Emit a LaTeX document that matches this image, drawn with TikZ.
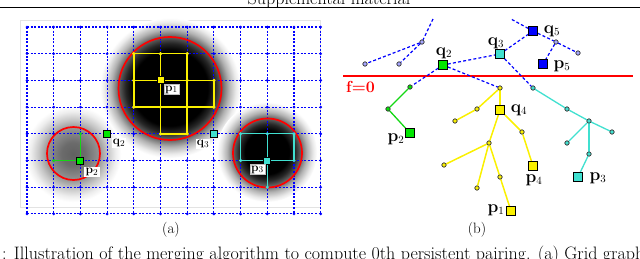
\documentclass[tikz,border=0pt]{standalone}
\usepackage{amsmath}
\pgfdeclareradialshading{blobone}{\pgfpoint{0bp}{0bp}}{color(0bp)=(black); color(13.5bp)=(black); color(16bp)=(black!85); color(18.4bp)=(black!62); color(21bp)=(black!30); color(23.5bp)=(black!8); color(25bp)=(white); color(50bp)=(white)}
\pgfdeclareradialshading{blobthree}{\pgfpoint{0bp}{0bp}}{color(0bp)=(black); color(11bp)=(black); color(14bp)=(black!85); color(17.25bp)=(black!58); color(20bp)=(black!30); color(23bp)=(black!9); color(25bp)=(white); color(50bp)=(white)}
\pgfdeclareradialshading{blobgray}{\pgfpoint{0bp}{0bp}}{color(0bp)=(black!62); color(6bp)=(black!58); color(13.5bp)=(black!42); color(18bp)=(black!22); color(22bp)=(black!7); color(25bp)=(white); color(50bp)=(white)}
\definecolor{ygreen}{RGB}{20,215,20}
\definecolor{sgreen}{RGB}{0,230,0}
\definecolor{ycyan}{RGB}{64,224,208}
\definecolor{yyel}{RGB}{250,240,0}
\definecolor{yblue}{RGB}{0,0,255}
\tikzset{
  bluegrid/.style={yblue, line width=1.1pt, dash pattern=on 2pt off 1.6pt},
  bluedash/.style={yblue, line width=1.2pt, dash pattern=on 3pt off 2.2pt},
  yline/.style={yyel, line width=1.5pt},
  gline/.style={ygreen, line width=1.3pt},
  cline/.style={ycyan, line width=1.3pt},
  redcirc/.style={red, line width=1.7pt},
  lsq/.style={draw=black, line width=1pt, minimum size=7pt, inner sep=0pt},
  rsq/.style={draw=black, line width=1.1pt, minimum size=8.5pt, inner sep=0pt},
  tdot/.style={circle, draw=black!75, line width=0.7pt, minimum size=4.2pt, inner sep=0pt},
  llab/.style={fill=white, inner sep=1.2pt, font=\fontsize{13}{14}\selectfont},
  rlab/.style={inner sep=0.5pt, font=\fontsize{16}{17}\selectfont},
}
\begin{document}
\begin{tikzpicture}[x=1pt,y=-1pt]
\useasboundingbox (0,0) rectangle (640,258);
\clip (0,0) rectangle (640,258);
% header and caption
\node[anchor=base, inner sep=0pt] (hdr) at (329,4) {\fontsize{18}{20}\selectfont Supplemental material};
\draw[line width=0.9pt] (0,7) -- (640,7);
\node[anchor=base west, inner sep=0pt] (cap) at (2,259.5) {\fontsize{18}{20}\selectfont : Illustration of the merging algorithm to compute 0th persistent pairing. (a) Grid graph};
% ---------- panel (a) ----------
\draw[gray!22, fill=white, line width=0.8pt] (20,20) rectangle (320,207);
\shade[shading=blobone] (170,88) circle[radius=70];
\shade[shading=blobgray] (73,154) circle[radius=48];
\shade[shading=blobthree] (267,152) circle[radius=50];
\foreach \i in {0,...,11}{\foreach \j in {0,...,7}{\coordinate (g\i-\j) at ({27+26.7*\i},{27+26.7*\j});}}
\foreach \j in {0,...,7}{\draw[bluegrid] (g0-\j) -- (g11-\j);}
\foreach \i in {0,...,11}{\draw[bluegrid] (g\i-0) -- (g\i-7);}
\foreach \i in {0,...,11}{\foreach \j in {0,...,7}{\fill[yblue] (g\i-\j) circle[radius=1.5];}}
\draw[redcirc] (170,88.5) circle[radius=51.5];
\draw[redcirc] (73.5,153.5) circle[radius=26.5];
\draw[redcirc] (267.5,153) circle[radius=34.5];
% yellow
\foreach \a/\b/\c/\d in {4/1/6/1, 4/2/7/2, 4/3/7/3, 5/4/6/4, 4/1/4/3, 5/1/5/4, 6/1/6/4, 7/2/7/3}{\draw[yline] (g\a-\b) -- (g\c-\d);}
\foreach \a/\b in {4/1,5/1,6/1,4/2,6/2,7/2,4/3,5/3,6/3,7/3,5/4,6/4}{\fill[yyel] (g\a-\b) circle[radius=1.8];}
% green
\foreach \a/\b/\c/\d in {2/4/2/5, 1/5/2/5}{\draw[gline] (g\a-\b) -- (g\c-\d);}
\foreach \a/\b in {2/4,1/5}{\fill[ygreen] (g\a-\b) circle[radius=1.7];}
% cyan
\foreach \a/\b/\c/\d in {8/4/10/4, 8/5/10/5, 8/4/8/5, 9/4/9/6, 10/4/10/5}{\draw[cline] (g\a-\b) -- (g\c-\d);}
\foreach \a/\b in {8/4,9/4,10/4,8/5,10/5,9/6}{\fill[ycyan] (g\a-\b) circle[radius=1.7];}
% squares
\node[lsq, fill=yyel] (ap1) at (g5-2) {};
\node[lsq, fill=sgreen] (aq2) at (g3-4) {};
\node[lsq, fill=ycyan] (aq3) at (g7-4) {};
\node[lsq, fill=sgreen] (ap2) at (g2-5) {};
\node[lsq, fill=ycyan] (ap3) at (g9-5) {};
\node[llab, draw=gray!50, line width=0.4pt] (lp1) at (171.5,89.5) {$\mathbf{p}_1$};
\node[llab] (lp2) at (92,172) {$\mathbf{p}_2$};
\node[llab, draw=gray!50, line width=0.4pt] (lp3) at (257.5,169.5) {$\mathbf{p}_3$};
\node[llab] (lq2) at (119,143) {$\mathbf{q}_2$};
\node[llab] (lq3) at (203,144) {$\mathbf{q}_3$};
\node[font=\fontsize{15}{17}\selectfont] (la) at (171,230) {(a)};
% ---------- panel (b) ----------
\draw[red, line width=1.5pt] (343,76) -- (633,76);
\node[red, font=\fontsize{16}{17}\selectfont\bfseries] (f0) at (360.5,86.5) {f=0};
\coordinate (t1) at (433,19);
\coordinate (t5) at (511,19);
\node[tdot, fill=blue!35] (ta) at (422,42) {};
\node[tdot, fill=blue!35] (tb) at (365,64) {};
\node[tdot, fill=blue!35] (tc) at (399,64) {};
\node[tdot, fill=blue!35] (bb) at (556,42) {};
\node[tdot, fill=blue!35] (be) at (578,53) {};
\node[rsq, fill=sgreen] (q2) at (443,65) {};
\node[rsq, fill=ycyan] (q3) at (500,54) {};
\node[rsq, fill=yblue] (q5) at (533,31) {};
\node[rsq, fill=yblue] (p5) at (543,64) {};
\node[tdot, fill=sgreen] (g1) at (410,87) {};
\node[tdot, fill=sgreen] (g2) at (388,109) {};
\node[rsq, fill=sgreen] (p2) at (410,133) {};
\node[tdot, fill=yyel] (y0) at (500,88) {};
\node[tdot, fill=yyel] (y1) at (477,109) {};
\node[tdot, fill=yyel] (y2) at (455,121) {};
\node[rsq, fill=yyel] (q4) at (500,110) {};
\node[tdot, fill=yyel] (y3) at (522,132) {};
\node[rsq, fill=yyel] (p4) at (533,166) {};
\node[tdot, fill=yyel] (y4) at (489,143) {};
\node[tdot, fill=yyel] (y5) at (444,165) {};
\node[tdot, fill=yyel] (y6) at (477,188) {};
\node[tdot, fill=yyel] (y7) at (500,177) {};
\node[rsq, fill=yyel] (p1) at (511,211) {};
\node[tdot, fill=ycyan] (c0) at (533,88) {};
\node[tdot, fill=ycyan] (c1) at (567,109) {};
\node[tdot, fill=ycyan] (c2) at (589,121) {};
\node[tdot, fill=ycyan] (c3) at (612,132) {};
\node[tdot, fill=ycyan] (c4) at (567,143) {};
\node[tdot, fill=ycyan] (c5) at (589,154) {};
\node[rsq, fill=ycyan] (p3) at (578,177) {};
% edges
\foreach \u/\v in {t1/ta, ta/tb, ta/tc, q2/q3, q2/g1, q2/y0, q3/q5, q3/c0, q5/t5, q5/bb, bb/be, bb/p5}{\draw[bluedash] (\u) -- (\v);}
\foreach \u/\v in {g1/g2, g2/p2}{\draw[gline] (\u) -- (\v);}
\foreach \u/\v in {y0/y1, y1/y2, y0/q4, q4/y3, y3/p4, q4/y4, y4/y5, y4/y6, y4/y7, y7/p1}{\draw[yline] (\u) -- (\v);}
\foreach \u/\v in {c0/c1, c1/c2, c2/c3, c2/c4, c2/c5, c5/p3}{\draw[cline] (\u) -- (\v);}
% redraw nodes on top
\foreach \n/\c in {ta/blue!35, tb/blue!35, tc/blue!35, bb/blue!35, be/blue!35, g1/sgreen, g2/sgreen, y0/yyel, y1/yyel, y2/yyel, y3/yyel, y4/yyel, y5/yyel, y6/yyel, y7/yyel, c0/ycyan, c1/ycyan, c2/ycyan, c3/ycyan, c4/ycyan, c5/ycyan}{\node[tdot, fill=\c] at (\n) {};}
\foreach \n/\c in {q2/sgreen, q3/ycyan, q5/yblue, p5/yblue, p2/sgreen, q4/yyel, p4/yyel, p1/yyel, p3/ycyan}{\node[rsq, fill=\c] at (\n) {};}
% labels
\node[rlab] (lbq2) at (444,53) {$\mathbf{q}_2$};
\node[rlab] (lbq3) at (496,43) {$\mathbf{q}_3$};
\node[rlab] (lbq5) at (552,31) {$\mathbf{q}_5$};
\node[rlab] (lbp5) at (562,66) {$\mathbf{p}_5$};
\node[rlab] (lbq4) at (519,110) {$\mathbf{q}_4$};
\node[rlab] (lbp4) at (534,180) {$\mathbf{p}_4$};
\node[rlab] (lbp1) at (496,210) {$\mathbf{p}_1$};
\node[rlab] (lbp2) at (396,139) {$\mathbf{p}_2$};
\node[rlab] (lbp3) at (598,178) {$\mathbf{p}_3$};
\node[font=\fontsize{15}{17}\selectfont] (lb) at (477,230) {(b)};
\end{tikzpicture}
\end{document}
